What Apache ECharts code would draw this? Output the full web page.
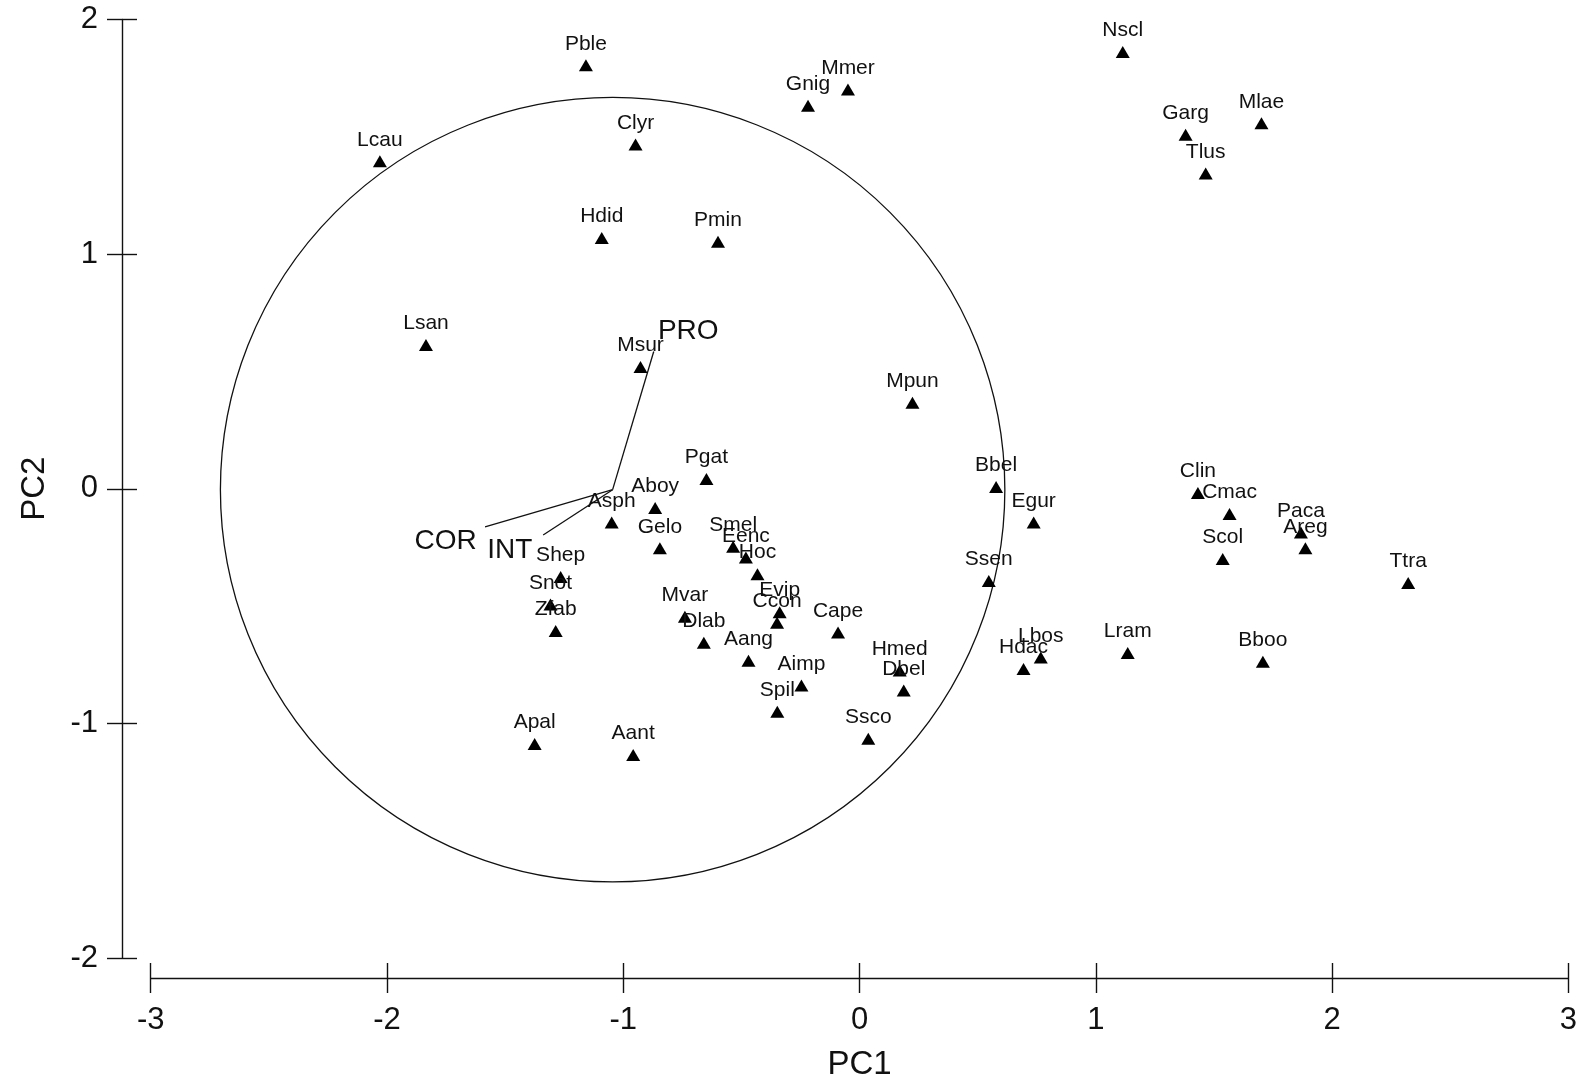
<!DOCTYPE html>
<html>
<head>
<meta charset="utf-8">
<title>PCA</title>
<script src="https://cdn.jsdelivr.net/npm/echarts@6/dist/echarts.min.js"></script>
<style>
  html, body { margin: 0; padding: 0; background: #fff; }
  #main { width: 1580px; height: 1086px; }
</style>
</head>
<body>
<div id="main"></div>
<script>
// species scores
const speciesNames = ['Lcau','Lsan','Pble','Clyr','Gnig','Mmer','Hdid','Pmin','Msur','Mpun',
  'Nscl','Garg','Mlae','Tlus','Asph','Aboy','Pgat','Gelo','Smel','Eenc',
  'Hoc','Evip','Ccon','Mvar','Dlab','Aang','Cape','Aimp','Spil','Hmed',
  'Dbel','Ssco','Bbel','Egur','Ssen','Hdac','Lbos','Clin','Cmac','Paca',
  'Areg','Scol','Ttra','Lram','Bboo','Shep','Snot','Zfab','Apal','Aant'];
const pc1 = [-2.030,-1.835,-1.158,-0.948,-0.218,-0.049,-1.091,-0.599,-0.927,0.224,
  1.114,1.380,1.701,1.465,-1.049,-0.865,-0.648,-0.845,-0.535,-0.481,
  -0.432,-0.338,-0.349,-0.739,-0.659,-0.470,-0.091,-0.246,-0.348,0.170,
  0.187,0.037,0.578,0.737,0.547,0.694,0.767,1.432,1.566,1.868,
  1.887,1.537,2.322,1.135,1.707,-1.265,-1.308,-1.286,-1.375,-0.958];
const pc2 = [1.396,0.613,1.805,1.467,1.632,1.702,1.069,1.053,0.519,0.367,
  1.861,1.509,1.558,1.344,-0.144,-0.082,0.042,-0.254,-0.247,-0.293,
  -0.364,-0.526,-0.571,-0.546,-0.656,-0.733,-0.613,-0.839,-0.950,-0.775,
  -0.860,-1.066,0.007,-0.144,-0.393,-0.768,-0.719,-0.018,-0.108,-0.187,
  -0.254,-0.299,-0.402,-0.700,-0.737,-0.376,-0.493,-0.606,-1.088,-1.135];

// variable vectors and circle
const circleCenter = [-1.045, -0.004];
const circleRadius = 1.66;
const varNames = ['PRO','COR','INT'];
const varEndX = [-0.871, -1.585, -1.339];
const varEndY = [0.585, -0.162, -0.197];
const varLabelX = [-0.725, -1.752, -1.480];
const varLabelY = [0.670, -0.225, -0.261];

const xTicks = [-3, 3, 1];   // min, max, interval
const yTicks = [-2, 2, 1];

const FONT = '"Liberation Sans", Arial, sans-serif';
const INK = '#111';

let chart = echarts.init(document.getElementById('main'));

function xAx(inside) {
  return {
    type: 'value', min: xTicks[0], max: xTicks[1], interval: xTicks[2],
    position: 'bottom', offset: 20,
    splitLine: {show: false},
    axisLine: {show: !inside, onZero: false, lineStyle: {color: INK, width: 1.4}},
    axisTick: {show: true, inside: inside, length: 15, lineStyle: {color: INK, width: 1.4}},
    axisLabel: {show: !inside, margin: 27, fontSize: 31, color: INK, fontFamily: FONT,
      showMinLabel: true, showMaxLabel: true},
    name: inside ? '' : 'PC1', nameLocation: 'middle', nameGap: 70,
    nameTextStyle: {fontSize: 33, color: INK, fontFamily: FONT}
  };
}
function yAx(inside) {
  return {
    type: 'value', min: yTicks[0], max: yTicks[1], interval: yTicks[2],
    position: 'left', offset: 28.7,
    splitLine: {show: false},
    axisLine: {show: !inside, onZero: false, lineStyle: {color: INK, width: 1.4}},
    axisTick: {show: true, inside: inside, length: 15, lineStyle: {color: INK, width: 1.4}},
    axisLabel: {show: !inside, margin: 24, fontSize: 31, color: INK, fontFamily: FONT,
      showMinLabel: true, showMaxLabel: true},
    name: inside ? '' : 'PC2', nameLocation: 'middle', nameGap: 71,
    nameTextStyle: {fontSize: 33, color: INK, fontFamily: FONT}
  };
}

let points = speciesNames.map(function (n, i) {
  return {name: n, value: [pc1[i], pc2[i]]};
});
let vectors = varNames.map(function (n, i) {
  return [circleCenter[0], circleCenter[1], varEndX[i], varEndY[i]];
});
let vecLabels = varNames.map(function (n, i) {
  return {name: n, value: [varLabelX[i], varLabelY[i]]};
});

chart.setOption({
  backgroundColor: '#fff',
  animation: false,
  grid: {left: 150.7, right: 11, top: 19.5, bottom: 121, containLabel: false},
  xAxis: [xAx(false), xAx(true)],
  yAxis: [yAx(false), yAx(true)],
  series: [
    {
      type: 'custom',
      data: [[circleCenter[0], circleCenter[1], circleRadius]],
      clip: false,
      silent: true,
      renderItem: function (params, api) {
        let c = api.coord([api.value(0), api.value(1)]);
        let r = api.size([api.value(2), 0])[0];
        return {type: 'circle', shape: {cx: c[0], cy: c[1], r: r},
          style: {fill: null, stroke: INK, lineWidth: 1.3}};
      }
    },
    {
      type: 'custom',
      data: vectors,
      silent: true,
      renderItem: function (params, api) {
        let a = api.coord([api.value(0), api.value(1)]);
        let b = api.coord([api.value(2), api.value(3)]);
        return {type: 'line', shape: {x1: a[0], y1: a[1], x2: b[0], y2: b[1]},
          style: {stroke: INK, lineWidth: 1.3}};
      }
    },
    {
      type: 'custom',
      data: vecLabels,
      silent: true,
      renderItem: function (params, api) {
        let p = api.coord([api.value(0), api.value(1)]);
        return {type: 'text', x: p[0], y: p[1],
          style: {text: varNames[params.dataIndex], fontSize: 28, fontFamily: FONT,
            fill: INK, align: 'center', verticalAlign: 'middle'}};
      }
    },
    {
      type: 'scatter',
      data: points,
      symbol: 'triangle',
      symbolSize: [14, 12],
      itemStyle: {color: '#000', opacity: 1},
      label: {show: true, position: 'top', distance: 5, formatter: '{b}',
        fontSize: 21, color: INK, fontFamily: FONT},
      labelLayout: {hideOverlap: false}
    }
  ]
});
</script>
</body>
</html>
